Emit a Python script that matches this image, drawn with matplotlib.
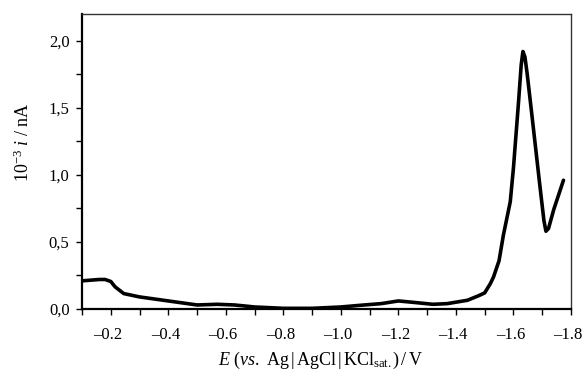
"""Linear sweep voltammogram, current vs potential."""

import matplotlib
matplotlib.use("Agg")
import matplotlib.pyplot as plt
import matplotlib.transforms as mtransforms
from matplotlib.ticker import FixedLocator, MultipleLocator, FuncFormatter

plt.rcParams["font.family"] = ["Liberation Serif", "DejaVu Serif"]
plt.rcParams["mathtext.fontset"] = "custom"
plt.rcParams["mathtext.rm"] = "Liberation Serif"
plt.rcParams["mathtext.it"] = "Liberation Serif:italic"

# potential (V vs Ag|AgCl|KCl sat.) and current (10^-3 nA)
potential = [
    -0.10, -0.16, -0.18, -0.20, -0.215, -0.245, -0.30, -0.40, -0.50, -0.57,
    -0.63, -0.70, -0.80, -0.90, -1.00, -1.07, -1.14, -1.20, -1.25, -1.32,
    -1.37, -1.44, -1.48, -1.50, -1.52, -1.531, -1.55, -1.565, -1.589, -1.60,
    -1.618, -1.627, -1.633, -1.64, -1.648, -1.664, -1.693, -1.706, -1.713,
    -1.722, -1.74, -1.774,
]
current = [
    0.21, 0.22, 0.22, 0.205, 0.165, 0.115, 0.09, 0.06, 0.03, 0.035,
    0.03, 0.015, 0.005, 0.005, 0.015, 0.028, 0.04, 0.06, 0.05, 0.035,
    0.04, 0.065, 0.10, 0.12, 0.19, 0.24, 0.36, 0.55, 0.80, 1.05,
    1.55, 1.82, 1.92, 1.88, 1.75, 1.45, 0.90, 0.66, 0.58,
    0.60, 0.74, 0.96,
]
x_ticks = [-0.2, -0.4, -0.6, -0.8, -1.0, -1.2, -1.4, -1.6, -1.8]
y_ticks = [0.0, 0.5, 1.0, 1.5, 2.0]

fig = plt.figure(figsize=(5.82, 3.73), dpi=100)
ax = fig.add_axes([0.141, 0.1716, 0.840, 0.791])

ax.plot(potential, current, color="black", lw=2.6,
        solid_capstyle="round", solid_joinstyle="round")

ax.set_xlim(-0.1, -1.8)
ax.set_ylim(0, 2.2)

ax.xaxis.set_major_locator(FixedLocator(x_ticks))
ax.xaxis.set_minor_locator(MultipleLocator(0.1))
ax.yaxis.set_major_locator(FixedLocator(y_ticks))
ax.yaxis.set_minor_locator(MultipleLocator(0.25))
ax.xaxis.set_major_formatter(FuncFormatter(lambda v, p: f"{v:.1f}".replace("-", "\u2013")))
ax.yaxis.set_major_formatter(FuncFormatter(lambda v, p: f"{v:.1f}".replace(".", ",")))

for side in ("left", "bottom"):
    ax.spines[side].set_linewidth(1.6)
    ax.spines[side].set_color("black")
for side in ("top", "right"):
    ax.spines[side].set_linewidth(1.0)
    ax.spines[side].set_color("#333333")

ax.tick_params(which="both", direction="out", length=4, width=1.0,
               top=False, right=False, labelsize=12)
ax.tick_params(axis="x", pad=9)
ax.tick_params(axis="y", pad=5)

# nudge x tick labels a little left, like the reference
shift = mtransforms.ScaledTranslation(-3 / 100, 0, fig.dpi_scale_trans)
for lbl in ax.get_xticklabels():
    lbl.set_transform(lbl.get_transform() + shift)

ax.set_xlabel(r"$E$ ($vs.$ Ag$\,|\,$AgCl$\,|\,$KCl$_{\mathrm{sat.}}$)$\,$/$\,$V",
              fontsize=13)
ax.set_ylabel(r"10$^{-3}$ $i$ / nA", fontsize=13)
ax.xaxis.set_label_coords(0.487, -0.14)
ax.yaxis.set_label_coords(-0.100, 0.566)

fig.savefig("out.png", dpi=100)
